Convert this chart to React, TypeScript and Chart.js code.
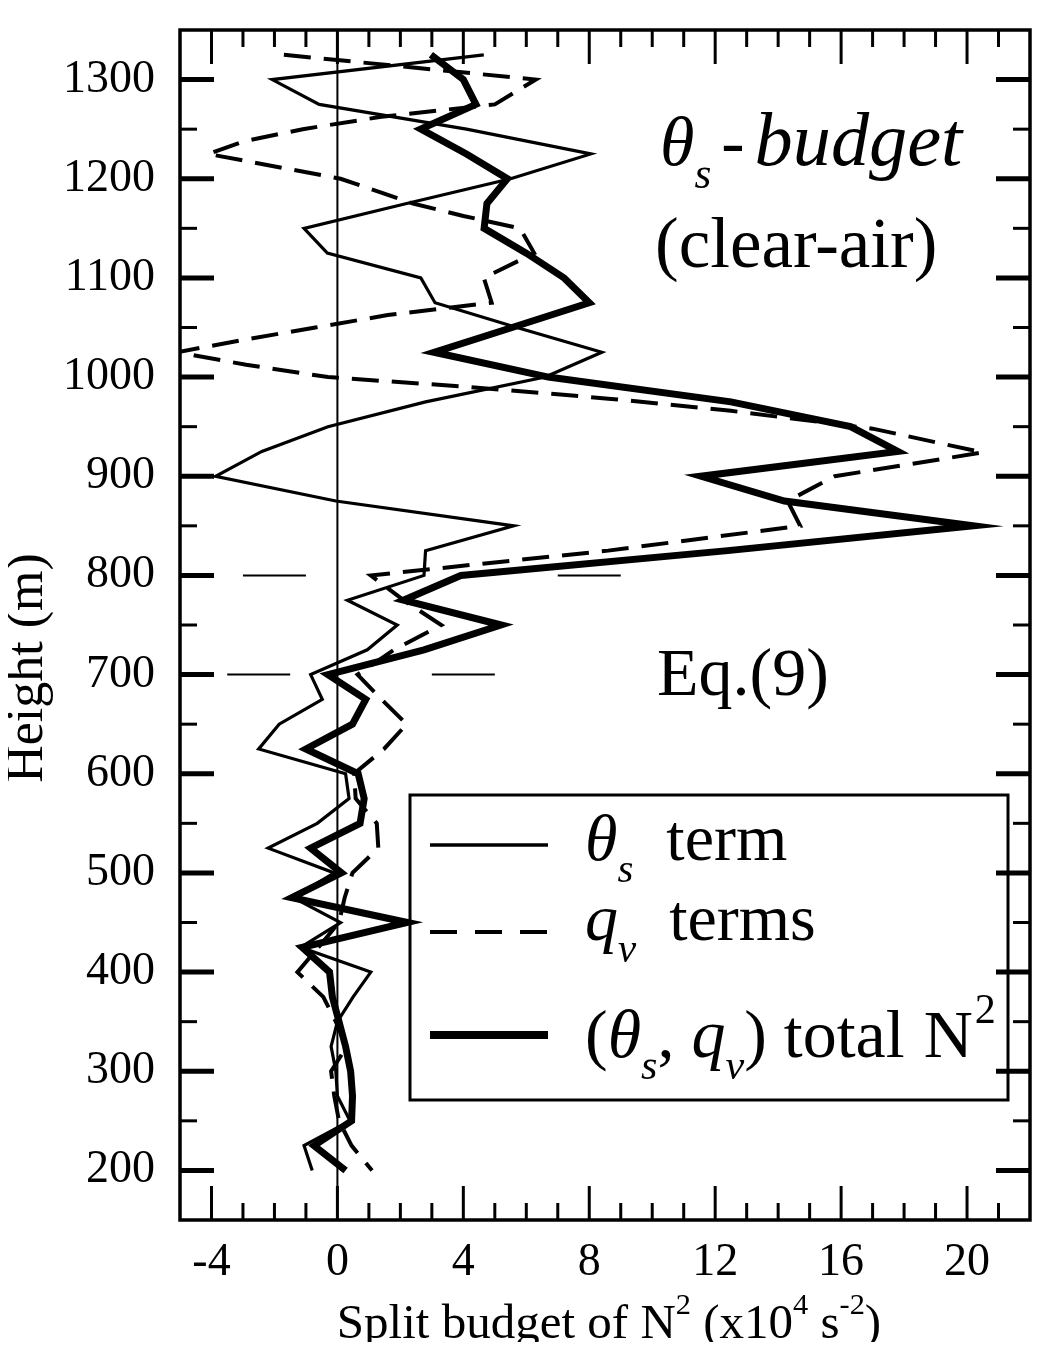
import React, { useEffect, useRef } from 'react';
import { Chart, registerables } from 'chart.js';

Chart.register(...registerables);

const FONT = "'Liberation Serif', 'Times New Roman', serif";

// Heights (m) of the θs-term and total profiles
const heights = [
  1325, 1300, 1275, 1250, 1225, 1200, 1175, 1150, 1125, 1100, 1075, 1050, 1025, 1000,
  975, 950, 925, 900, 875, 850, 825, 800, 775, 750, 725, 700, 675, 650, 625, 600,
  575, 550, 525, 500, 475, 450, 425, 400, 375, 350, 325, 300, 275, 250, 225, 200,
];

// θs term (x10^4 s^-2)
const thetaTerm = [
  4.65, -2.07, -0.58, 4.1, 8.05, 5.5, 2.2, -1.06, -0.32, 2.65, 3.1, 5.7, 8.4, 6.6,
  2.8, -0.3, -2.4, -3.87, -0.05, 5.6, 2.8, 2.75, 0.32, 1.9, 0.95, -0.85, -0.48, -1.85, -2.5, 0.26,
  0.37, -0.64, -2.2, -0.1, -1.4, 0.1, -1.17, 1.06, 0.5, 0.0, -0.2, -0.05, 0.0, 0.4, -1.06, -0.8,
];

// (θs, qv) total N^2
const totalN2 = [
  2.97, 4.0, 4.4, 2.65, 4.1, 5.4, 4.75, 4.66, 6.0, 7.2, 8.0, 5.55, 3.07, 6.7,
  12.5, 16.3, 17.8, 11.55, 14.2, 20.2, 12.4, 3.92, 2.1, 5.2, 2.75, -0.3, 0.9, 0.48, -1.0, 0.66,
  0.85, 0.72, -0.85, 0.13, -1.45, 2.22, -1.12, -0.25, -0.16, 0.05, 0.26, 0.42, 0.48, 0.45, -0.74, 0.26,
];

// qv terms profile
const qvHeights = [
  1325, 1300, 1275, 1262.5, 1250, 1237.5, 1225, 1200, 1175, 1162.5, 1150, 1125, 1100, 1075,
  1062.5, 1050, 1037.5, 1025, 1012.5, 1000, 990, 978, 966, 948, 924, 900, 875, 850, 825, 800,
  775, 750, 725, 700, 675, 650, 625, 600, 575, 550, 525, 500, 475, 450, 425, 400,
  375, 350, 325, 300, 275, 250, 225, 200,
];
const qvTerms = [
  -1.7, 6.3, 5.0, 1.4, -1.1, -3.0, -4.1, 0.1, 2.4, 4.0, 5.8, 6.25, 4.65, 4.9,
  1.6, -0.7, -3.0, -5.1, -2.9, -0.3, 4.2, 8.7, 12.5, 17.0, 20.5, 15.8, 14.3, 14.7, 8.6, 1.06,
  2.1, 3.3, 1.8, 0.64, 1.4, 2.2, 1.48, 0.53, 0.58, 1.25, 1.3, 0.48, 0.23, 0.05, -0.6, -1.27,
  -0.45, -0.05, 0.3, -0.2, -0.1, 0.05, 0.45, 1.1,
];

// long-dash reference marks at 800 m and 700 m (null = gap)
const ref800X = [-3, -1, null, 7, 9];
const ref700X = [-3.5, -1.5, null, 3, 5];
const zeroLineY = [150, 1350];

// axes
const xRange = [-5, 22];
const yRange = [150, 1350];
const xMajorTicks = [-4, 0, 4, 8, 12, 16, 20];
const xMinorTicks = [-3, -2, -1, 1, 2, 3, 5, 6, 7, 9, 10, 11, 13, 14, 15, 17, 18, 19, 21];
const yMajorTicks = [200, 300, 400, 500, 600, 700, 800, 900, 1000, 1100, 1200, 1300];
const yMinorTicks = [250, 350, 450, 550, 650, 750, 850, 950, 1050, 1150, 1250];

type Part = { t: string; it?: boolean; sub?: boolean; sup?: boolean; gap?: number; k?: number };

function setFont(ctx: CanvasRenderingContext2D, p: Part, size: number) {
  const base = size * (p.k || 1);
  const s = p.sub || p.sup ? base * 0.62 : base;
  ctx.font = `${p.it ? 'italic ' : ''}${s}px ${FONT}`;
}

function measureRich(ctx: CanvasRenderingContext2D, parts: Part[], size: number) {
  let w = 0;
  for (const p of parts) {
    setFont(ctx, p, size);
    w += (p.gap || 0) + ctx.measureText(p.t).width;
  }
  return w;
}

function drawRich(ctx: CanvasRenderingContext2D, parts: Part[], x: number, y: number, size: number) {
  let cx = x;
  ctx.textAlign = 'left';
  ctx.textBaseline = 'alphabetic';
  for (const p of parts) {
    setFont(ctx, p, size);
    cx += p.gap || 0;
    const dy = p.sub ? size * 0.33 : p.sup ? -size * 0.5 : 0;
    ctx.fillText(p.t, cx, y + dy);
    cx += ctx.measureText(p.t).width;
  }
  return cx - x;
}

const decorPlugin = {
  id: 'decor',
  afterDatasetsDraw(chart: any) {
    const ctx: CanvasRenderingContext2D = chart.ctx;
    const { left, right, top, bottom } = chart.chartArea;
    const xs = chart.scales.x;
    const ys = chart.scales.y;
    ctx.save();
    ctx.strokeStyle = '#000';
    ctx.fillStyle = '#000';
    ctx.lineCap = 'butt';
    const seg = (x1: number, y1: number, x2: number, y2: number, w: number) => {
      ctx.lineWidth = w;
      ctx.beginPath();
      ctx.moveTo(x1, y1);
      ctx.lineTo(x2, y2);
      ctx.stroke();
    };
    xMajorTicks.forEach((v) => {
      const px = xs.getPixelForValue(v);
      seg(px, bottom, px, bottom - 34, 3);
      seg(px, top, px, top + 34, 3);
    });
    xMinorTicks.forEach((v) => {
      const px = xs.getPixelForValue(v);
      seg(px, bottom, px, bottom - 17, 3);
      seg(px, top, px, top + 17, 3);
    });
    yMajorTicks.forEach((v) => {
      const py = ys.getPixelForValue(v);
      seg(left, py, left + 34, py, 5);
      seg(right, py, right - 34, py, 5);
    });
    yMinorTicks.forEach((v) => {
      const py = ys.getPixelForValue(v);
      seg(left, py, left + 17, py, 3);
      seg(right, py, right - 17, py, 3);
    });
    ctx.lineWidth = 3.5;
    ctx.strokeRect(left, top, right - left, bottom - top);

    // annotations
    drawRich(
      ctx,
      [
        { t: 'θ', it: true },
        { t: 's', it: true, sub: true },
        { t: '-', gap: 10 },
        { t: 'budget', it: true, gap: 10, k: 1.09 },
      ],
      652,
      157,
      70
    );
    drawRich(ctx, [{ t: '(clear-air)' }], 647, 259, 71);
    drawRich(ctx, [{ t: 'Eq.(9)' }], 649, 687, 68);

    // legend box
    ctx.lineWidth = 3;
    ctx.strokeRect(402, 787, 598, 305);
    const lx1 = 422;
    const lx2 = 540;
    seg(lx1, 837, lx2, 837, 3.5);
    ctx.setLineDash([27, 18]);
    seg(lx1, 924, lx2, 924, 4);
    ctx.setLineDash([]);
    seg(lx1, 1027, lx2, 1027, 8);
    const fs = 66;
    drawRich(ctx, [{ t: 'θ', it: true }, { t: 's', it: true, sub: true }, { t: '  term' }], 577, 852, fs);
    drawRich(ctx, [{ t: 'q', it: true }, { t: 'v', it: true, sub: true }, { t: '  terms' }], 577, 932, fs);
    drawRich(
      ctx,
      [
        { t: '(' },
        { t: 'θ', it: true },
        { t: 's', it: true, sub: true },
        { t: ', ' },
        { t: 'q', it: true },
        { t: 'v', it: true, sub: true },
        { t: ') total' },
        { t: 'N', gap: 19 },
        { t: '2', sup: true, gap: 2 },
      ],
      577,
      1049,
      68
    );

    // axis titles
    const xt: Part[] = [
      { t: 'Split budget of N' },
      { t: '2', sup: true },
      { t: ' (x10' },
      { t: '4', sup: true },
      { t: ' s' },
      { t: '-2', sup: true },
      { t: ')' },
    ];
    const xw = measureRich(ctx, xt, 49);
    drawRich(ctx, xt, 601 - xw / 2, 1330, 49);

    ctx.translate(20, 660);
    ctx.rotate(-Math.PI / 2);
    ctx.font = `52px ${FONT}`;
    ctx.textAlign = 'center';
    ctx.textBaseline = 'middle';
    ctx.fillText('Height (m)', 0, 0);
    ctx.restore();
  },
};

const toPoints = (xv: (number | null)[], yv: (number | null)[]) =>
  xv.map((x, i) => ({ x: x as any, y: (x === null ? null : yv[i]) as any }));

export default function App() {
  const ref = useRef<HTMLCanvasElement | null>(null);
  useEffect(() => {
    if (!ref.current) return;
    const chart = new Chart(ref.current, {
      type: 'scatter',
      data: {
        datasets: [
          {
            label: 'θs term',
            data: thetaTerm.map((v, i) => ({ x: v, y: heights[i] })),
            showLine: true,
            borderColor: '#000',
            borderWidth: 3.2,
            pointRadius: 0,
            tension: 0,
          },
          {
            label: 'qv terms',
            data: qvTerms.map((v, i) => ({ x: v, y: qvHeights[i] })),
            showLine: true,
            borderColor: '#000',
            borderWidth: 4,
            borderDash: [27, 13],
            pointRadius: 0,
            tension: 0,
          },
          {
            label: 'total N2',
            data: totalN2.map((v, i) => ({ x: v, y: heights[i] })),
            showLine: true,
            borderColor: '#000',
            borderWidth: 7,
            pointRadius: 0,
            tension: 0,
          },
          {
            label: 'zero',
            data: zeroLineY.map((y) => ({ x: 0, y })),
            showLine: true,
            borderColor: '#000',
            borderWidth: 2,
            pointRadius: 0,
          },
          {
            label: 'ref800',
            data: toPoints(ref800X, ref800X.map(() => 800)),
            showLine: true,
            spanGaps: false,
            borderColor: '#000',
            borderWidth: 2,
            pointRadius: 0,
          },
          {
            label: 'ref700',
            data: toPoints(ref700X, ref700X.map(() => 700)),
            showLine: true,
            spanGaps: false,
            borderColor: '#000',
            borderWidth: 2,
            pointRadius: 0,
          },
        ],
      },
      options: {
        animation: false,
        responsive: false,
        devicePixelRatio: 1,
        layout: { padding: { top: 22, right: 12, left: 0, bottom: 0 } },
        plugins: { legend: { display: false }, tooltip: { enabled: false } },
        scales: {
          x: {
            type: 'linear',
            min: xRange[0],
            max: xRange[1],
            grid: { display: false },
            border: { display: false },
            afterBuildTicks: (s: any) => {
              s.ticks = xMajorTicks.map((v) => ({ value: v }));
            },
            afterFit: (s: any) => {
              s.height = 130;
              s.paddingLeft = 0;
              s.paddingRight = 0;
            },
            ticks: {
              autoSkip: false,
              maxRotation: 0,
              padding: 7,
              color: '#000',
              font: { family: FONT, size: 46 },
              callback: (v: any) => String(v),
            },
          },
          y: {
            type: 'linear',
            min: yRange[0],
            max: yRange[1],
            grid: { display: false },
            border: { display: false },
            afterBuildTicks: (s: any) => {
              s.ticks = yMajorTicks.map((v) => ({ value: v }));
            },
            afterFit: (s: any) => {
              s.width = 172;
              s.paddingTop = 0;
              s.paddingBottom = 0;
            },
            ticks: {
              autoSkip: false,
              padding: 17,
              color: '#000',
              font: { family: FONT, size: 46 },
              callback: (v: any) => String(v),
            },
          },
        },
      } as any,
      plugins: [decorPlugin],
    });
    return () => chart.destroy();
  }, []);
  return (
    <div style={{ background: '#fff', height: 1334 }}>
      <canvas ref={ref} width={1034} height={1342} style={{ display: 'block' }} />
    </div>
  );
}
